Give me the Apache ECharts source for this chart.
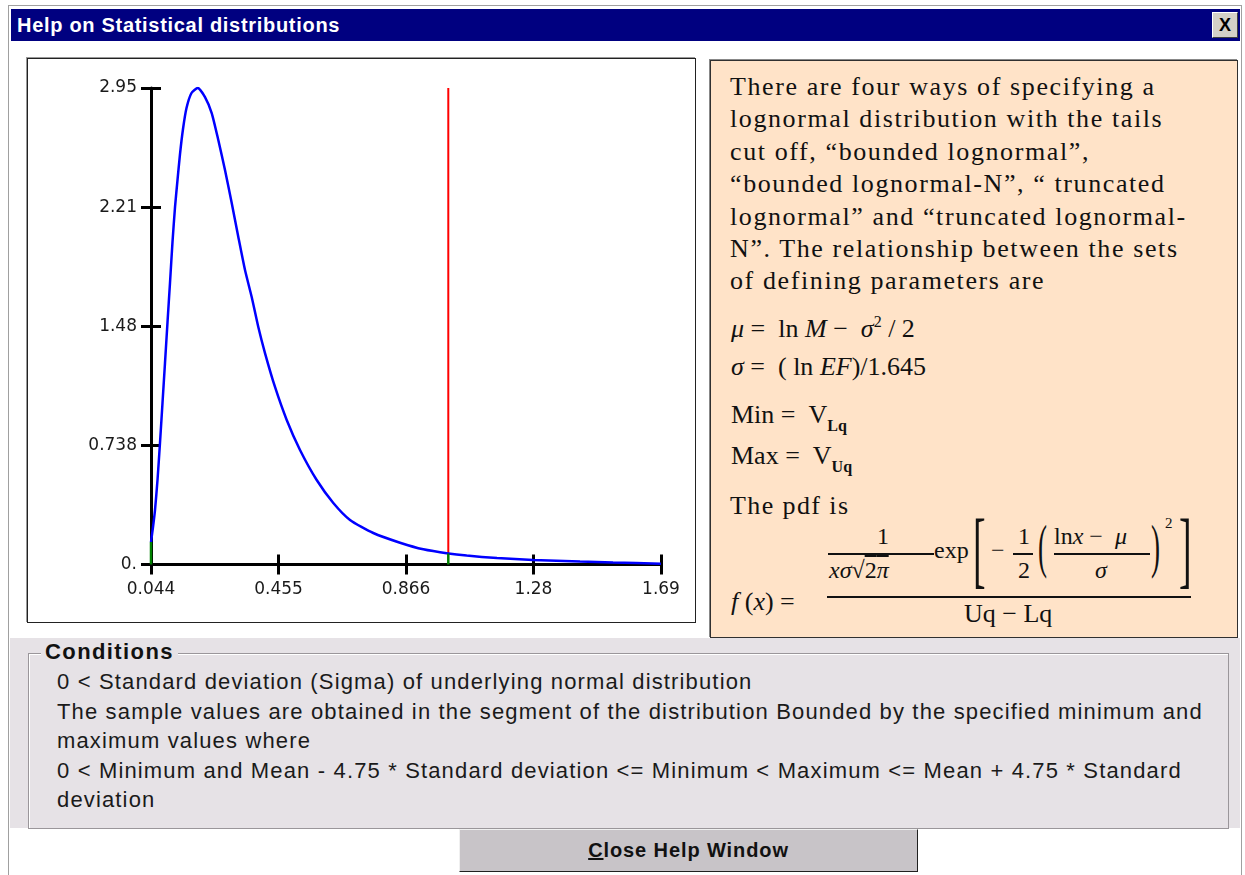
<!DOCTYPE html>
<html>
<head>
<meta charset="utf-8">
<script src="https://cdn.jsdelivr.net/npm/echarts@6/dist/echarts.min.js"></script>
<style>
  body { margin: 0; width: 1245px; height: 875px; background: #fff; position: relative; overflow: hidden; font-family: "Liberation Sans", Arial, sans-serif; }
  .abs { position: absolute; }
  .frame { left: 8px; top: 5px; width: 1232px; height: 870px; border: 1px solid #a0a0a0; border-bottom: none; }
  .titlebar { left: 11px; top: 9px; width: 1229px; height: 32px; background: #000080; }
  .title { left: 17px; top: 11px; color: #fff; font-weight: bold; font-size: 20px; line-height: 28px; letter-spacing: 0.7px; }
  .xbtn { left: 1212px; top: 12px; width: 24px; height: 24px; background: #d4d0c8; border: 1px solid; border-color: #fff #404040 #404040 #fff; font-weight: bold; font-size: 18px; line-height: 24px; text-align: center; color: #000; }
  .chartbox { left: 27px; top: 58px; width: 667px; height: 563px; border: 1px solid #222; box-shadow: -1px -1px 0 #999; background: #fff; }
  #chart { left: 28px; top: 59px; width: 666px; height: 562px; }
  .panel { left: 710px; top: 60px; width: 526px; height: 576px; background: #ffe3c8; border: 1px solid #303030; box-shadow: -1px -1px 0 #888; font-family: "Liberation Serif", "Times New Roman", serif; font-size: 26px; color: #111; }
  .para { left: 19px; top: 10px; line-height: 32.4px; letter-spacing: 1.6px; white-space: nowrap; }
  .f { white-space: nowrap; line-height: 1; }
  .i { font-style: italic; }
  .sub { font-size: 16px; font-weight: bold; position: relative; top: 8px; }
  .bar { background: #111; height: 1.5px; }
  .grey { left: 10px; top: 638px; width: 1230px; height: 190px; background: #e6e2e6; }
  .group { left: 28px; top: 653px; width: 1199px; height: 174px; border: 1px solid #9a969a; box-shadow: 1px 1px 0 #fff inset; }
  .gtitle { left: 41px; top: 638px; padding: 0 4px; background: #e6e2e6; font-weight: bold; font-size: 22px; line-height: 28px; letter-spacing: 1.4px; color: #111; }
  .cond { left: 57px; top: 667px; font-size: 22px; line-height: 29.6px; color: #1a1a1a; white-space: nowrap; letter-spacing: 1.15px; }
  .btn { left: 459px; top: 829px; width: 457px; height: 41px; background: #c8c4c8; border: 1px solid; border-color: #f0f0f0 #202020 #202020 #f0f0f0; font-weight: bold; font-size: 20px; line-height: 41px; letter-spacing: 0.9px; text-align: center; color: #111; }
</style>
</head>
<body>
<div class="abs frame"></div>
<div class="abs titlebar"></div>
<div class="abs title">Help on Statistical distributions</div>
<div class="abs xbtn">X</div>

<div class="abs chartbox"></div>
<div class="abs" id="chart"></div>

<div class="abs panel">
  <div class="abs para">There are four ways of specifying a<br>lognormal distribution with the tails<br>cut off, “bounded lognormal”,<br>“bounded lognormal-N”, “ truncated<br>lognormal” and “truncated lognormal-<br>N”. The relationship between the sets<br>of defining parameters are</div>
  <div class="abs f" style="left:20px;top:253px"><span class="i">μ</span> =&nbsp; ln <span class="i">M</span> − &nbsp;<span class="i">σ</span><sup style="font-size:16px">2</sup> / 2</div>
  <div class="abs f" style="left:20px;top:293px"><span class="i">σ</span> = &nbsp;( ln <span class="i">EF</span>)/1.645</div>
  <div class="abs f" style="left:20px;top:341px">Min = &nbsp;V<span class="sub">Lq</span></div>
  <div class="abs f" style="left:20px;top:382px">Max = &nbsp;V<span class="sub">Uq</span></div>
  <div class="abs f" style="left:19px;top:432px;letter-spacing:1.4px">The pdf is</div>
  <!-- pdf formula -->
  <div class="abs f" style="left:166px;top:463px;font-size:24px">1</div>
  <div class="abs bar" style="left:117px;top:492px;width:106px"></div>
  <div class="abs f" style="left:118px;top:497px;font-size:24px"><span class="i">xσ</span>√<span style="text-decoration:overline">2<span class="i">π</span></span></div>
  <div class="abs f" style="left:223px;top:477px;font-size:24px">exp</div>
  <div class="abs f" style="left:262px;top:447px;font-size:84px;transform:scaleX(0.45);transform-origin:left">[</div>
  <div class="abs f" style="left:280px;top:477px;font-size:24px">−</div>
  <div class="abs f" style="left:307px;top:463px;font-size:24px">1</div>
  <div class="abs bar" style="left:302px;top:492px;width:20px"></div>
  <div class="abs f" style="left:307px;top:497px;font-size:24px">2</div>
  <div class="abs f" style="left:327px;top:455px;font-size:60px;transform:scaleX(0.45);transform-origin:left">(</div>
  <div class="abs f" style="left:343px;top:463px;font-size:24px">ln<span class="i">x</span> − &nbsp;<span class="i">μ</span></div>
  <div class="abs bar" style="left:343px;top:492px;width:96px"></div>
  <div class="abs f i" style="left:384px;top:497px;font-size:24px">σ</div>
  <div class="abs f" style="left:440px;top:455px;font-size:60px;transform:scaleX(0.45);transform-origin:left">)</div>
  <div class="abs f" style="left:454px;top:455px;font-size:15px">2</div>
  <div class="abs f" style="left:468px;top:447px;font-size:84px;transform:scaleX(0.45);transform-origin:left">]</div>
  <div class="abs bar" style="left:116px;top:535px;width:364px"></div>
  <div class="abs f" style="left:20px;top:528px"><span class="i">f</span> (<span class="i">x</span>) =</div>
  <div class="abs f" style="left:253px;top:540px">Uq − Lq</div>
</div>

<div class="abs grey"></div>
<div class="abs group"></div>
<div class="abs gtitle">Conditions</div>
<div class="abs cond">0 &lt; Standard deviation (Sigma) of underlying normal distribution<br>The sample values are obtained in the segment of the distribution Bounded by the specified minimum and<br>maximum values where<br>0 &lt; Minimum and Mean - 4.75 * Standard deviation &lt;= Minimum &lt; Maximum &lt;= Mean + 4.75 * Standard<br>deviation</div>
<div class="abs btn"><u>C</u>lose Help Window</div>

<script>
// values
const xs = [0.044, 0.0505, 0.0569, 0.065, 0.073, 0.0811, 0.0892, 0.0973, 0.1053, 0.1134, 0.1215,
  0.1295, 0.1376, 0.1473, 0.1586, 0.1747, 0.1947, 0.2183, 0.2399, 0.2612, 0.2828, 0.3045, 0.3258,
  0.3474, 0.369, 0.3903, 0.4119, 0.4442, 0.482, 0.5249, 0.5788, 0.6324, 0.6863, 0.7615, 0.8477,
  0.9229, 1.0035, 1.0629, 1.1607, 1.2769, 1.4286, 1.5351, 1.69];
const ys = [0.139, 0.232, 0.337, 0.523, 0.752, 1.0, 1.248, 1.501, 1.743, 1.997, 2.213,
  2.38, 2.541, 2.696, 2.826, 2.919, 2.95, 2.894, 2.795, 2.628, 2.442, 2.238, 2.028,
  1.823, 1.656, 1.47, 1.309, 1.099, 0.895, 0.709, 0.523, 0.381, 0.276, 0.195, 0.135,
  0.094, 0.068, 0.055, 0.04, 0.028, 0.018, 0.012, 0.005];
const boundX = [0.044, 1.0035];
const boundY = [0.139, 0.068];
const markerX = 1.0035;
const markerTop = 2.95;
const xTicks = [0.044, 0.4555, 0.867, 1.2785, 1.69];
const xTickLabels = ["0.044", "0.455", "0.866", "1.28", "1.69"];
const yTicks = [0, 0.7375, 1.475, 2.2125, 2.95];
const yTickLabels = ["0.", "0.738", "1.48", "2.21", "2.95"];

function nearest(arr, v) {
  let best = 0;
  for (let i = 1; i < arr.length; i++) {
    if (Math.abs(arr[i] - v) < Math.abs(arr[best] - v)) best = i;
  }
  return best;
}

const myChart = echarts.init(document.getElementById("chart"));
const tickStyle = { color: "#000", width: 3 };
const labelFont = { color: "#1a1a1a", fontSize: 17, fontFamily: "DejaVu Sans, Verdana, sans-serif" };

myChart.setOption({
  animation: false,
  grid: { left: 123, top: 29, width: 510, height: 476.5 },
  xAxis: [
    {
      type: "value", min: 0.044, max: 1.69, position: "bottom",
      axisLine: { onZero: false, lineStyle: { color: "#000", width: 3 } },
      axisTick: { show: true, length: 10, lineStyle: tickStyle, customValues: xTicks },
      axisLabel: Object.assign({ margin: 17, customValues: xTicks,
        formatter: (v) => xTickLabels[nearest(xTicks, v)] }, labelFont),
      splitLine: { show: false },
    },
    {
      type: "value", min: 0.044, max: 1.69, position: "bottom",
      axisLine: { show: false, onZero: false },
      axisTick: { show: true, inside: true, length: 10, lineStyle: tickStyle, customValues: xTicks },
      axisLabel: { show: false },
      splitLine: { show: false },
    },
  ],
  yAxis: [
    {
      type: "value", min: 0, max: 2.95, position: "left",
      axisLine: { show: true, onZero: false, lineStyle: { color: "#000", width: 3 } },
      axisTick: { show: true, length: 10, lineStyle: tickStyle, customValues: yTicks },
      axisLabel: Object.assign({ margin: 14, customValues: yTicks,
        formatter: (v) => yTickLabels[nearest(yTicks, v)] }, labelFont),
      splitLine: { show: false },
    },
    {
      type: "value", min: 0, max: 2.95, position: "left",
      axisLine: { show: false, onZero: false },
      axisTick: { show: true, inside: true, length: 10, lineStyle: tickStyle, customValues: yTicks },
      axisLabel: { show: false },
      splitLine: { show: false },
    },
  ],
  series: [
    {
      type: "line",
      data: [[markerX, boundY[1]], [markerX, markerTop]],
      showSymbol: false,
      lineStyle: { color: "#ff0000", width: 2 },
      z: 3,
    },
    {
      type: "line",
      data: xs.map((x, i) => [x, ys[i]]),
      showSymbol: false,
      smooth: 0.2,
      lineStyle: { color: "#0000ff", width: 2.5 },
      z: 4,
    },
    {
      type: "line",
      data: [[boundX[0], 0], [boundX[0], boundY[0]]],
      showSymbol: false,
      lineStyle: { color: "#008000", width: 2.5 },
      z: 5,
    },
    {
      type: "line",
      data: [[boundX[1], 0], [boundX[1], boundY[1]]],
      showSymbol: false,
      lineStyle: { color: "#008000", width: 2.5 },
      z: 5,
    },
  ],
});
</script>
</body>
</html>
